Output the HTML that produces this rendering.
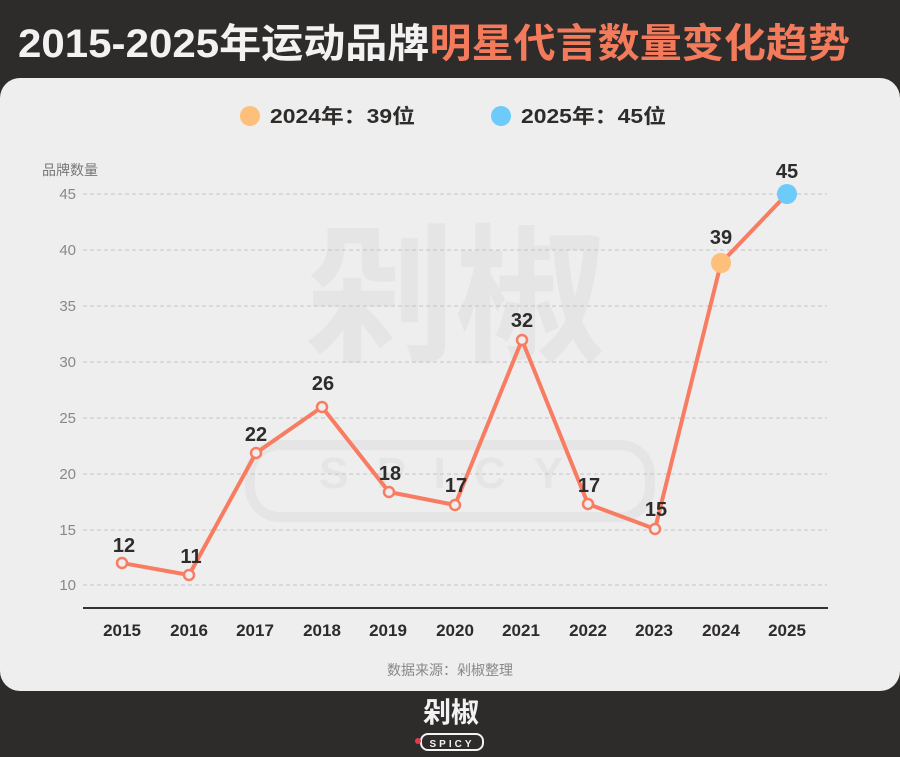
<!DOCTYPE html>
<html><head><meta charset="utf-8"><style>
html,body{margin:0;padding:0;width:900px;height:757px;background:#2e2c2b;overflow:hidden}
svg{display:block}
text{font-family:"Liberation Sans","Noto Sans CJK SC",sans-serif}
</style></head><body>
<svg width="900" height="757" viewBox="0 0 900 757" xmlns="http://www.w3.org/2000/svg">
<rect width="900" height="757" fill="#2e2c2b"/>
<text x="18" y="57" font-size="40" font-weight="bold" fill="#f2f2f2" textLength="832" lengthAdjust="spacingAndGlyphs">2015-2025年运动品牌<tspan fill="#f47a5c">明星代言数量变化趋势</tspan></text>
<rect x="0" y="78" width="900" height="613" rx="20" fill="#eeeeee"/>
<!-- watermark -->
<text x="455" y="350" font-size="150" font-weight="bold" fill="#e5e5e5" text-anchor="middle">剁椒</text>
<text x="455" y="488" font-size="44" font-weight="bold" fill="#e5e5e5" text-anchor="middle" letter-spacing="28">SPICY</text>
<rect x="250" y="445" width="400" height="72" rx="30" fill="none" stroke="#e5e5e5" stroke-width="10"/>
<!-- legend -->
<circle cx="250" cy="116" r="10" fill="#fdbf79"/>
<text x="270" y="123" font-size="20" font-weight="bold" fill="#2e2c2b" textLength="145" lengthAdjust="spacingAndGlyphs">2024年：39位</text>
<circle cx="501" cy="116" r="10" fill="#6ccbf9"/>
<text x="521" y="123" font-size="20" font-weight="bold" fill="#2e2c2b" textLength="145" lengthAdjust="spacingAndGlyphs">2025年：45位</text>
<text x="42" y="175" font-size="14" fill="#777">品牌数量</text>
<g stroke="#c4c4c4" stroke-width="1" stroke-dasharray="4,3">
<line x1="83" x2="827" y1="194" y2="194"/><line x1="83" x2="827" y1="250" y2="250"/>
<line x1="83" x2="827" y1="306" y2="306"/><line x1="83" x2="827" y1="362" y2="362"/>
<line x1="83" x2="827" y1="418" y2="418"/><line x1="83" x2="827" y1="474" y2="474"/>
<line x1="83" x2="827" y1="530" y2="530"/><line x1="83" x2="827" y1="585" y2="585"/>
</g>
<g font-size="15" fill="#888" text-anchor="end">
<text x="76" y="199">45</text><text x="76" y="255">40</text><text x="76" y="311">35</text>
<text x="76" y="367">30</text><text x="76" y="423">25</text><text x="76" y="479">20</text>
<text x="76" y="535">15</text><text x="76" y="590">10</text>
</g>
<line x1="83" x2="828" y1="608" y2="608" stroke="#333" stroke-width="2"/>
<g font-size="17" font-weight="bold" fill="#2e2c2b" text-anchor="middle">
<text x="122" y="636">2015</text><text x="189" y="636">2016</text><text x="255" y="636">2017</text>
<text x="322" y="636">2018</text><text x="388" y="636">2019</text><text x="455" y="636">2020</text>
<text x="521" y="636">2021</text><text x="588" y="636">2022</text><text x="654" y="636">2023</text>
<text x="721" y="636">2024</text><text x="787" y="636">2025</text>
</g>
<polyline fill="none" stroke="#f87c62" stroke-width="4" stroke-linejoin="round" points="122,563 189,575 256,453 322,407 389,492 455,505 522,340 588,504 655,529 721,263 787,194"/>
<g fill="#eeeeee" stroke="#f87c62" stroke-width="2.5">
<circle cx="122" cy="563" r="5"/><circle cx="189" cy="575" r="5"/><circle cx="256" cy="453" r="5"/>
<circle cx="322" cy="407" r="5"/><circle cx="389" cy="492" r="5"/><circle cx="455" cy="505" r="5"/>
<circle cx="522" cy="340" r="5"/><circle cx="588" cy="504" r="5"/><circle cx="655" cy="529" r="5"/>
</g>
<circle cx="721" cy="263" r="10" fill="#fdbf79"/>
<circle cx="787" cy="194" r="10" fill="#6ccbf9"/>
<g font-size="20" font-weight="bold" fill="#2e2c2b" text-anchor="middle">
<text x="124" y="552">12</text><text x="191" y="563">11</text><text x="256" y="441">22</text>
<text x="323" y="390">26</text><text x="390" y="480">18</text><text x="456" y="492">17</text>
<text x="522" y="327">32</text><text x="589" y="492">17</text><text x="656" y="516">15</text>
<text x="721" y="244">39</text><text x="787" y="178">45</text>
</g>
<text x="450" y="675" font-size="14" fill="#888" text-anchor="middle">数据来源：剁椒整理</text>
<text x="451" y="722" font-size="28" font-weight="bold" fill="#f2f2f2" text-anchor="middle">剁椒</text>
<rect x="421" y="734" width="62" height="16" rx="7" fill="none" stroke="#f2f2f2" stroke-width="2"/>
<circle cx="418" cy="741" r="3" fill="#e23c4c"/>
<text x="452" y="747" font-size="10" font-weight="bold" fill="#f2f2f2" text-anchor="middle" letter-spacing="3">SPICY</text>
</svg>
</body></html>
